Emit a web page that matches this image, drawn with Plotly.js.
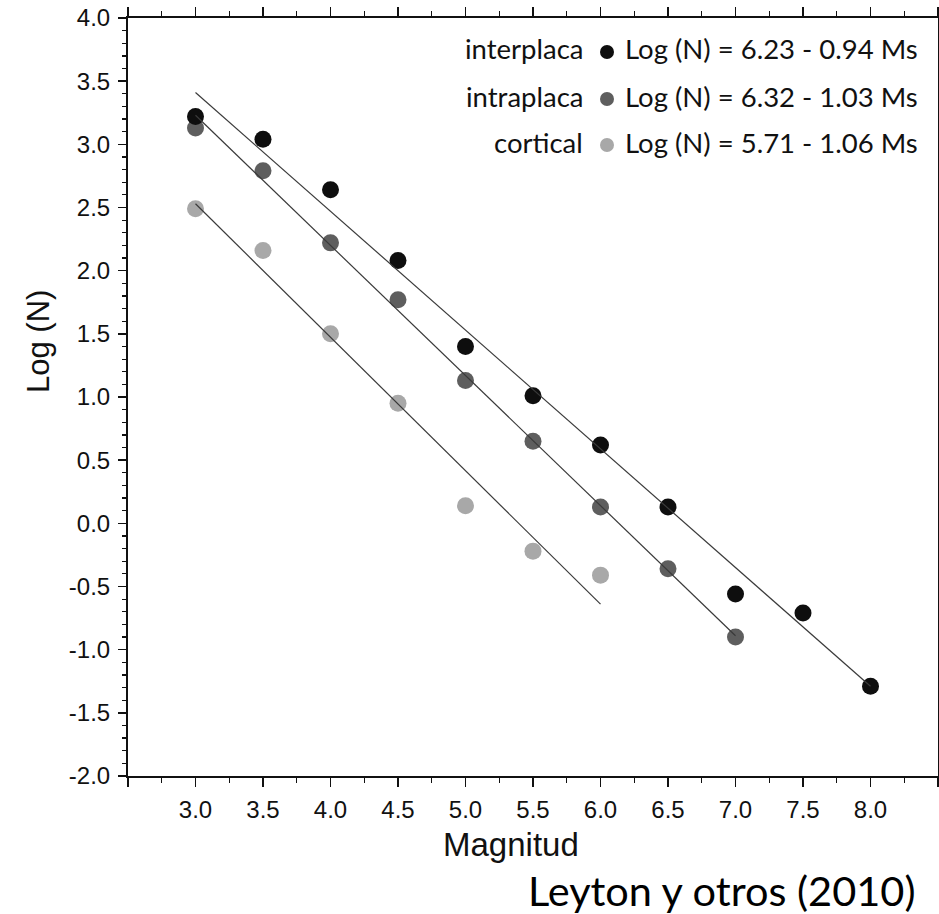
<!DOCTYPE html>
<html>
<head>
<meta charset="utf-8">
<script src="https://cdn.plot.ly/plotly-3.0.1.min.js"></script>
<style>html,body{margin:0;padding:0;background:#fff;}#chart{width:939px;height:914px;}</style>
</head>
<body>
<div id="chart"></div>
<script>
// Data
const magInter = [3.0, 3.5, 4.0, 4.5, 5.0, 5.5, 6.0, 6.5, 7.0, 7.5, 8.0];
const logInter = [3.22, 3.04, 2.64, 2.08, 1.40, 1.01, 0.62, 0.13, -0.56, -0.71, -1.29];
const magIntra = [3.0, 3.5, 4.0, 4.5, 5.0, 5.5, 6.0, 6.5, 7.0];
const logIntra = [3.13, 2.79, 2.22, 1.77, 1.13, 0.65, 0.13, -0.36, -0.90];
const magCort = [3.0, 3.5, 4.0, 4.5, 5.0, 5.5, 6.0];
const logCort = [2.49, 2.16, 1.50, 0.95, 0.14, -0.22, -0.41];
// regression line endpoints
const fitInterX = [3.0, 8.0], fitInterY = [3.41, -1.29];
const fitIntraX = [3.0, 7.0], fitIntraY = [3.23, -0.89];
const fitCortX = [3.0, 6.0], fitCortY = [2.53, -0.64];
// legend
const seriesNames = ['interplaca', 'intraplaca', 'cortical'];
const equations = ['Log (N) = 6.23 - 0.94 Ms', 'Log (N) = 6.32 - 1.03 Ms', 'Log (N) = 5.71 - 1.06 Ms'];
// ticks
const xTickVals = [2.5, 3.0, 3.5, 4.0, 4.5, 5.0, 5.5, 6.0, 6.5, 7.0, 7.5, 8.0, 8.5];
const xTickText = ['', '3.0', '3.5', '4.0', '4.5', '5.0', '5.5', '6.0', '6.5', '7.0', '7.5', '8.0', ''];
const yTickVals = [-2.0, -1.5, -1.0, -0.5, 0.0, 0.5, 1.0, 1.5, 2.0, 2.5, 3.0, 3.5, 4.0];
const yTickText = ['-2.0', '-1.5', '-1.0', '-0.5', '0.0', '0.5', '1.0', '1.5', '2.0', '2.5', '3.0', '3.5', '4.0'];

const colors = ['#0e0e0e', '#5e5e5e', '#a8a8a8'];
const lineColor = '#3a3a3a';
const MS = 17;

const traces = [
  {x: magCort, y: logCort, mode: 'markers', type: 'scatter', marker: {color: colors[2], size: MS}, showlegend: false},
  {x: magIntra, y: logIntra, mode: 'markers', type: 'scatter', marker: {color: colors[1], size: MS}, showlegend: false},
  {x: magInter, y: logInter, mode: 'markers', type: 'scatter', marker: {color: colors[0], size: MS}, showlegend: false},
  {x: fitInterX, y: fitInterY, mode: 'lines', type: 'scatter', line: {color: lineColor, width: 1.2}, showlegend: false},
  {x: fitIntraX, y: fitIntraY, mode: 'lines', type: 'scatter', line: {color: lineColor, width: 1.2}, showlegend: false},
  {x: fitCortX, y: fitCortY, mode: 'lines', type: 'scatter', line: {color: lineColor, width: 1.2}, showlegend: false}
];

const W = 939, H = 914, ml = 128, mr = 1, mt = 18, mb = 138;
const pw = W - ml - mr, ph = H - mt - mb;
const px = v => (v - ml) / pw;
const py = v => (H - mb - v) / ph;

const legendRowsY = [49, 96, 142];
const annotations = [];
const shapes = [];
const legFont = 'Lato, "Open Sans", sans-serif';
seriesNames.forEach((n, i) => {
  annotations.push({xref: 'paper', yref: 'paper', x: px(585), y: py(legendRowsY[i]), xanchor: 'right', yanchor: 'middle',
    text: n, showarrow: false, font: {family: legFont, size: 27.5, color: '#111'}});
  annotations.push({xref: 'paper', yref: 'paper', x: px(623), y: py(legendRowsY[i]), xanchor: 'left', yanchor: 'middle',
    text: equations[i], showarrow: false, font: {family: legFont, size: 27.5, color: '#111'}});
  shapes.push({type: 'circle', xref: 'paper', yref: 'paper', xsizemode: 'pixel', ysizemode: 'pixel',
    xanchor: px(607), yanchor: py(legendRowsY[i] + 3), x0: -7, x1: 7, y0: -7, y1: 7,
    fillcolor: colors[i], line: {width: 0}});
});
annotations.push({xref: 'paper', yref: 'paper', x: px(511), y: py(845), xanchor: 'center', yanchor: 'middle',
  text: 'Magnitud', showarrow: false, font: {family: '"Liberation Sans", Arial, sans-serif', size: 33, color: '#111'}});
annotations.push({xref: 'paper', yref: 'paper', x: px(38), y: py(342), xanchor: 'center', yanchor: 'middle', textangle: -90,
  text: 'Log (N)', showarrow: false, font: {family: '"Liberation Sans", Arial, sans-serif', size: 31, color: '#111'}});
annotations.push({xref: 'paper', yref: 'paper', x: px(917), y: py(890), xanchor: 'right', yanchor: 'middle',
  text: 'Leyton y otros (2010)', showarrow: false, font: {family: legFont, size: 41.5, color: '#000'}});

const layout = {
  width: W, height: H,
  margin: {l: ml, r: mr, t: mt, b: mb, pad: 0},
  paper_bgcolor: '#fff', plot_bgcolor: '#fff',
  font: {family: '"Liberation Sans", Arial, sans-serif', color: '#111'},
  xaxis: {
    range: [2.5, 8.5], tickmode: 'array', tickvals: xTickVals, ticktext: xTickText,
    ticks: 'outside', ticklen: 9, tickwidth: 1.5, tickcolor: '#111',
    showline: true, linecolor: '#111', linewidth: 2, mirror: 'ticks',
    showgrid: false, zeroline: false,
    tickfont: {size: 24, color: '#111'}, ticklabelstandoff: 2,
    minor: {tickmode: 'linear', tick0: 2.5, dtick: 0.25, ticks: 'outside', ticklen: 5, tickwidth: 1.2, tickcolor: '#111', showgrid: false}
  },
  yaxis: {
    range: [-2.0, 4.0], tickmode: 'array', tickvals: yTickVals, ticktext: yTickText,
    ticks: 'outside', ticklen: 8, tickwidth: 1.5, tickcolor: '#111',
    showline: true, linecolor: '#111', linewidth: 2, mirror: true,
    showgrid: false, zeroline: false,
    tickfont: {size: 24, color: '#111'}, ticklabelstandoff: 3,
    minor: {tickmode: 'linear', tick0: 0, dtick: 0.1, ticks: 'outside', ticklen: 4, tickwidth: 1.2, tickcolor: '#111', showgrid: false}
  },
  annotations: annotations,
  shapes: shapes,
  showlegend: false
};

Plotly.newPlot('chart', traces, layout, {displayModeBar: false, staticPlot: true});
</script>
</body>
</html>
